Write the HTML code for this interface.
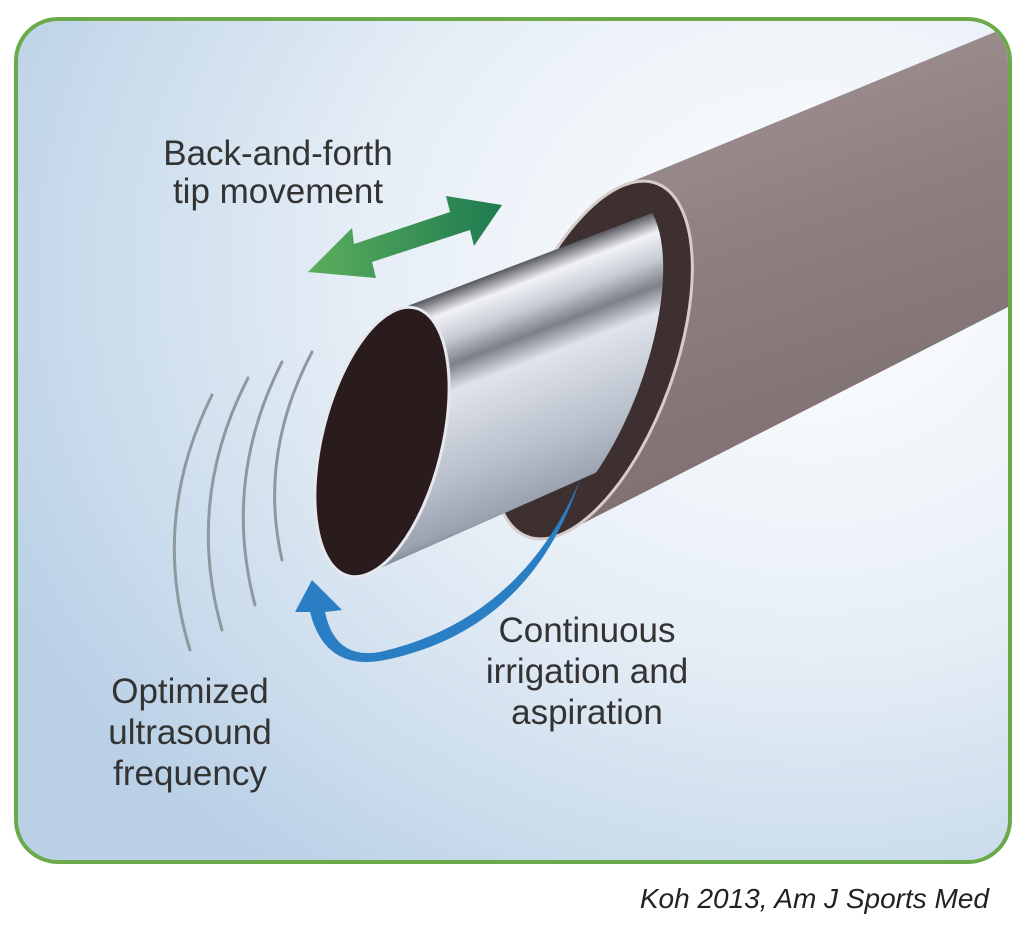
<!DOCTYPE html>
<html><head><meta charset="utf-8"><style>
html,body{margin:0;padding:0;background:#fff;width:1024px;height:932px;overflow:hidden}
svg{display:block}
text{font-family:"Liberation Sans",sans-serif}
</style></head><body>
<svg width="1024" height="932" viewBox="0 0 1024 932">
<defs>
<radialGradient id="bg" cx="0.8" cy="0.3" r="0.9">
<stop offset="0" stop-color="#ffffff"/><stop offset="0.5" stop-color="#e6eef6"/><stop offset="1" stop-color="#b9d0e6"/>
</radialGradient>
<linearGradient id="outer" x1="0" y1="0" x2="0.3" y2="1">
<stop offset="0" stop-color="#a8989a"/><stop offset="0.5" stop-color="#8e7f80"/><stop offset="1" stop-color="#7d6f70"/>
</linearGradient>
<linearGradient id="inner" gradientUnits="userSpaceOnUse" x1="397" y1="310" x2="487" y2="545">
<stop offset="0" stop-color="#55565c"/><stop offset="0.08" stop-color="#f0f2f6"/><stop offset="0.18" stop-color="#c8ccd4"/><stop offset="0.28" stop-color="#7e8088"/><stop offset="0.38" stop-color="#e0e3ea"/><stop offset="0.7" stop-color="#b8c0cc"/><stop offset="0.9" stop-color="#9aa2b0"/><stop offset="1" stop-color="#60606a"/>
</linearGradient>
<linearGradient id="grn" x1="0" y1="0" x2="1" y2="0">
<stop offset="0" stop-color="#5cae5c"/><stop offset="1" stop-color="#1e7a50"/>
</linearGradient>
<clipPath id="c"><rect x="18" y="21" width="990" height="839" rx="40"/></clipPath>
<clipPath id="ic">
<ellipse cx="574" cy="362" rx="70" ry="176" transform="rotate(20 574 362)"/>
<polygon points="0,0 661,0 481,932 0,932"/>
</clipPath>
</defs>
<rect x="16" y="19" width="994" height="843" rx="42" fill="url(#bg)" stroke="#6aaa4a" stroke-width="4"/>
<g clip-path="url(#c)">
<polygon points="626,184 1012,25 1012,305 558,536" fill="url(#outer)"/>
<ellipse cx="592" cy="360" rx="82" ry="188" transform="rotate(20 592 360)" fill="#3e3030" stroke="#d6cccc" stroke-width="3"/>
<g clip-path="url(#ic)">
<polygon points="397,310 760,172 760,400 367,574" fill="url(#inner)"/>
</g>
<ellipse cx="382" cy="442" rx="60" ry="138" transform="rotate(14 382 442)" fill="#2a1c1c" stroke="#e6e8ee" stroke-width="3"/>
</g>
<g fill="none" stroke="#8f979f" stroke-width="3" stroke-linecap="round">
<path d="M212,395 Q150,520 190,650"/>
<path d="M248,378 Q185,500 222,630"/>
<path d="M282,362 Q222,480 255,605"/>
<path d="M312,352 Q258,455 282,560"/>
</g>
<polygon points="308,272 352,228 354,244 450,212 446,196 502,205 474,246 470,230 372,262 376,278" fill="url(#grn)"/>
<path d="M580,480 Q520,620 380,652 Q335,660 325,612 L342,610 L312,580 L295,612 L310,612 Q325,672 385,660 Q530,630 580,480 Z" fill="#2a7ec4"/>
<g font-size="35" fill="#333" text-anchor="middle">
<text x="278" y="165">Back-and-forth</text>
<text x="278" y="203">tip movement</text>
<text x="190" y="703">Optimized</text>
<text x="190" y="744">ultrasound</text>
<text x="190" y="785">frequency</text>
<text x="587" y="642">Continuous</text>
<text x="587" y="683">irrigation and</text>
<text x="587" y="724">aspiration</text>
</g>
<text x="989" y="908" font-size="28" font-style="italic" fill="#222" text-anchor="end">Koh 2013, Am J Sports Med</text>
</svg>
</body></html>
